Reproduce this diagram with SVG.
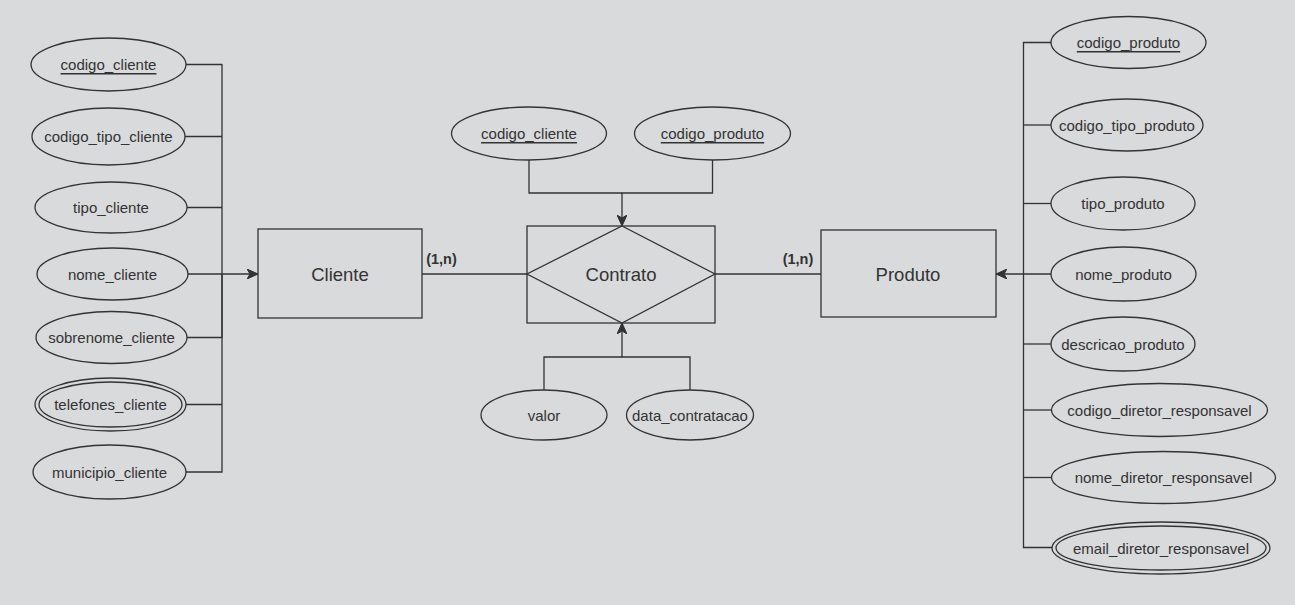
<svg xmlns="http://www.w3.org/2000/svg" width="1295" height="605" viewBox="0 0 1295 605">
<style>
.bg{fill:#d9dadb}
.sh{fill:#d9dadb;stroke:#333;stroke-width:1.3}
.ln{fill:none;stroke:#333;stroke-width:1.3}
.t{font-family:"Liberation Sans",Arial,sans-serif;font-size:15px;fill:#333;text-anchor:middle;dominant-baseline:central}
.e{font-size:18.5px}
.u{text-decoration:underline}
.c{font-family:"Liberation Sans",Arial,sans-serif;font-size:14.5px;font-weight:bold;fill:#333;text-anchor:middle}
</style>
<defs>
<marker id="arr" markerUnits="userSpaceOnUse" markerWidth="12" markerHeight="10" refX="11" refY="5" orient="auto" viewBox="0 0 12 10">
<path d="M0,0 L11,5 L0,10 L3,5 Z" fill="#333" stroke="#333" stroke-width="1"/>
</marker>
</defs>
<rect class="bg" x="0" y="0" width="1295" height="605"/>

<g id="connectors">
<path class="ln" d="M186,64.5 H222 V274"/>
<path class="ln" d="M185,136.5 H222"/>
<path class="ln" d="M187,207.5 H222"/>
<path class="ln" d="M187,337.5 H222 V274"/>
<path class="ln" d="M186,404.5 H222"/>
<path class="ln" d="M186,472 H222 V274"/>
<path class="ln" d="M188,274 H258" marker-end="url(#arr)"/>

<path class="ln" d="M1051,42.5 H1023.5 V274"/>
<path class="ln" d="M1051,125 H1023.5"/>
<path class="ln" d="M1051,203.5 H1023.5"/>
<path class="ln" d="M1051,344 H1023.5"/>
<path class="ln" d="M1051.5,410 H1023.5"/>
<path class="ln" d="M1051.5,477.5 H1023.5"/>
<path class="ln" d="M1052,547.5 H1023.5 V274"/>
<path class="ln" d="M1051,274 H996" marker-end="url(#arr)"/>

<path class="ln" d="M529,160 V193 H622"/>
<path class="ln" d="M712.5,160 V193 H622 V226" marker-end="url(#arr)"/>
<path class="ln" d="M544,390 V357 H622"/>
<path class="ln" d="M690,390 V357 H622 V323" marker-end="url(#arr)"/>

<path class="ln" d="M422,274 H527"/>
<path class="ln" d="M715,274 H821"/>
<text class="c" x="441.5" y="264">(1,n)</text>
<text class="c" x="798" y="264">(1,n)</text>
</g>

<g id="cliente">
<rect class="sh" x="258" y="229" width="164" height="89"/>
<text class="t e" x="340" y="274">Cliente</text>
</g>
<g id="contrato">
<rect class="sh" x="527" y="226" width="188" height="97"/>
<polygon class="sh" points="622,226 715,274 622,323 527,274"/>
<text class="t e" x="621" y="274">Contrato</text>
</g>
<g id="produto">
<rect class="sh" x="821" y="230" width="175" height="87"/>
<text class="t e" x="908" y="274">Produto</text>
</g>

<g id="a_codigo_cliente">
<ellipse class="sh" cx="108.5" cy="64.5" rx="77.5" ry="26.5"/>
<text class="t u" x="108.5" y="64.5">codigo_cliente</text>
</g>
<g id="a_codigo_tipo_cliente">
<ellipse class="sh" cx="108.5" cy="136.5" rx="76.5" ry="28.5"/>
<text class="t" x="108.5" y="136.5">codigo_tipo_cliente</text>
</g>
<g id="a_tipo_cliente">
<ellipse class="sh" cx="111" cy="207.5" rx="76" ry="25.5"/>
<text class="t" x="111" y="207.5">tipo_cliente</text>
</g>
<g id="a_nome_cliente">
<ellipse class="sh" cx="112.5" cy="274" rx="75.5" ry="26"/>
<text class="t" x="112.5" y="274">nome_cliente</text>
</g>
<g id="a_sobrenome_cliente">
<ellipse class="sh" cx="111.5" cy="337.5" rx="75.5" ry="26"/>
<text class="t" x="111.5" y="337.5">sobrenome_cliente</text>
</g>
<g id="a_telefones_cliente">
<ellipse class="sh" cx="110.5" cy="404.5" rx="75.5" ry="26.5"/>
<ellipse class="sh" cx="110.5" cy="404.5" rx="71.5" ry="22.5"/>
<text class="t" x="110.5" y="404.5">telefones_cliente</text>
</g>
<g id="a_municipio_cliente">
<ellipse class="sh" cx="109.5" cy="472" rx="76.5" ry="27"/>
<text class="t" x="109.5" y="472">municipio_cliente</text>
</g>

<g id="r_codigo_cliente">
<ellipse class="sh" cx="529" cy="133.5" rx="77.5" ry="26.5"/>
<text class="t u" x="529" y="133.5">codigo_cliente</text>
</g>
<g id="r_codigo_produto">
<ellipse class="sh" cx="712.5" cy="133.5" rx="78" ry="26.5"/>
<text class="t u" x="712.5" y="133.5">codigo_produto</text>
</g>
<g id="r_valor">
<ellipse class="sh" cx="544" cy="415" rx="63" ry="25"/>
<text class="t" x="544" y="415">valor</text>
</g>
<g id="r_data_contratacao">
<ellipse class="sh" cx="690" cy="415" rx="63.5" ry="25"/>
<text class="t" x="690" y="415">data_contratacao</text>
</g>

<g id="p_codigo_produto">
<ellipse class="sh" cx="1128.5" cy="42.5" rx="77.5" ry="26"/>
<text class="t u" x="1128.5" y="42.5">codigo_produto</text>
</g>
<g id="p_codigo_tipo_produto">
<ellipse class="sh" cx="1127" cy="125" rx="76" ry="26"/>
<text class="t" x="1127" y="125">codigo_tipo_produto</text>
</g>
<g id="p_tipo_produto">
<ellipse class="sh" cx="1123" cy="203.5" rx="72" ry="26.5"/>
<text class="t" x="1123" y="203.5">tipo_produto</text>
</g>
<g id="p_nome_produto">
<ellipse class="sh" cx="1123.5" cy="274" rx="72.5" ry="27"/>
<text class="t" x="1123.5" y="274">nome_produto</text>
</g>
<g id="p_descricao_produto">
<ellipse class="sh" cx="1123" cy="344" rx="72" ry="27"/>
<text class="t" x="1123" y="344">descricao_produto</text>
</g>
<g id="p_codigo_diretor_responsavel">
<ellipse class="sh" cx="1159.5" cy="410" rx="108" ry="26.5"/>
<text class="t" x="1159.5" y="410">codigo_diretor_responsavel</text>
</g>
<g id="p_nome_diretor_responsavel">
<ellipse class="sh" cx="1163.5" cy="477.5" rx="112" ry="26"/>
<text class="t" x="1163.5" y="477.5">nome_diretor_responsavel</text>
</g>
<g id="p_email_diretor_responsavel">
<ellipse class="sh" cx="1161" cy="548" rx="109" ry="26"/>
<ellipse class="sh" cx="1161" cy="548" rx="105" ry="22"/>
<text class="t" x="1161" y="548">email_diretor_responsavel</text>
</g>
</svg>
